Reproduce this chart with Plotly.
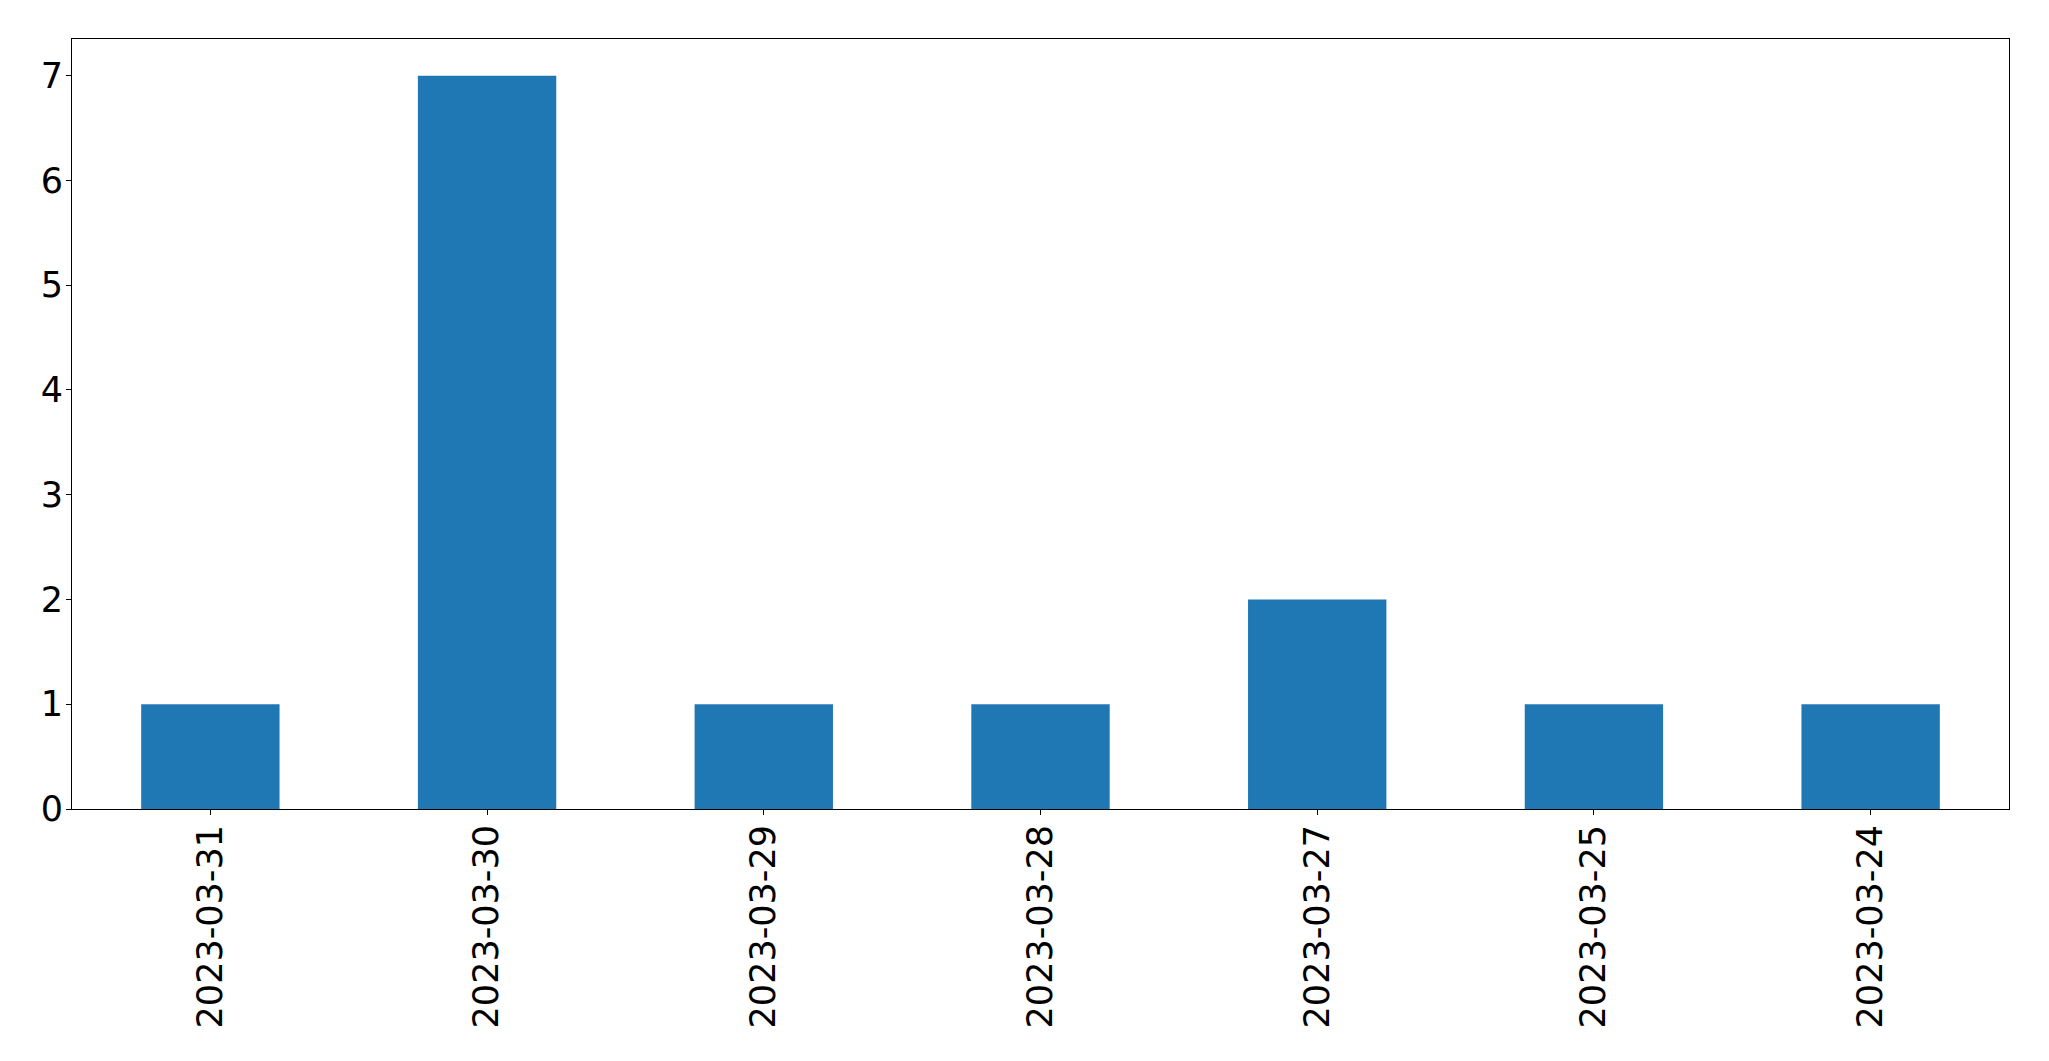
import plotly.graph_objects as go

dates = ["2023-03-31", "2023-03-30", "2023-03-29", "2023-03-28", "2023-03-27", "2023-03-25", "2023-03-24"]
counts = [1, 7, 1, 1, 2, 1, 1]
y_ticks = [0, 1, 2, 3, 4, 5, 6, 7]

fig = go.Figure(go.Bar(x=dates, y=counts, width=0.5, marker=dict(color="#1f77b4", line=dict(width=0))))

axis_common = dict(showline=True, linecolor="black", linewidth=1, mirror=True,
                   ticks="outside", ticklen=5, tickwidth=1, tickcolor="black",
                   showgrid=False, zeroline=False, automargin=False,
                   tickfont=dict(family="DejaVu Sans", size=35, color="black"))

# page body has an 8px margin, so the figure is shrunk by that and margins offset
fig.update_layout(
    width=2041, height=1053,
    margin=dict(l=64, r=40, t=31, b=252),
    paper_bgcolor="white", plot_bgcolor="white",
    showlegend=False,
    xaxis=dict(type="category", range=[-0.5, 6.5], tickangle=-90, ticklabelstandoff=-4, **axis_common),
    yaxis=dict(range=[0, 7.35], tickvals=y_ticks, ticklabelstandoff=-4, **axis_common),
)

fig.write_html("out.html")
